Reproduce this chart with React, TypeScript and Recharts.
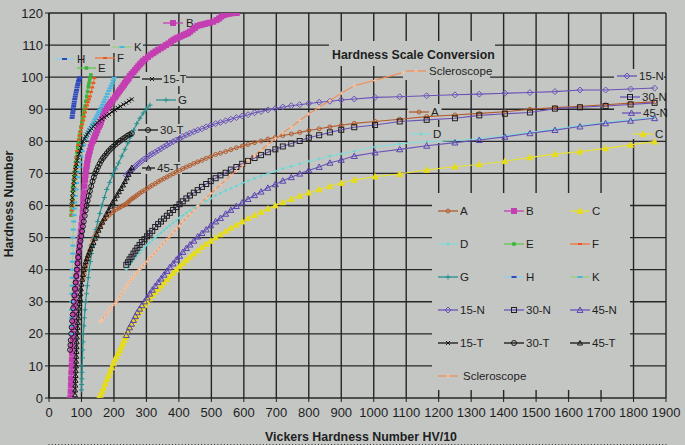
import React from 'react'
import { LineChart, Line, XAxis, YAxis, CartesianGrid, Legend, Customized } from 'recharts'

const BG = '#c4c6c4'
const INK = '#1e1e1e'
const FONT = '"Liberation Sans", Arial, Helvetica, sans-serif'

// axis ticks
const xTicks = [0, 100, 200, 300, 400, 500, 600, 700, 800, 900, 1000, 1100, 1200, 1300, 1400, 1500, 1600, 1700, 1800, 1900]
const yTicks = [0, 10, 20, 30, 40, 50, 60, 70, 80, 90, 100, 110, 120]
const minorTicks = Array.from({ length: 191 }, (_, i) => i * 10)

// Rockwell C range rows (HRC 20 -> 68)
const hrcHV = [238, 243, 248, 254, 260, 266, 272, 279, 286, 294, 302, 310, 318, 327, 336, 345, 354, 363, 372, 382, 392, 402, 412, 423, 434, 446, 458, 471, 484, 498, 513, 528, 544, 560, 577, 595, 613, 633, 653, 674, 697, 720, 746, 772, 800, 832, 865, 900, 940]
const hrcC = [20, 21, 22, 23, 24, 25, 26, 27, 28, 29, 30, 31, 32, 33, 34, 35, 36, 37, 38, 39, 40, 41, 42, 43, 44, 45, 46, 47, 48, 49, 50, 51, 52, 53, 54, 55, 56, 57, 58, 59, 60, 61, 62, 63, 64, 65, 66, 67, 68]
const hrcA = [60.5, 61.0, 61.5, 62.0, 62.4, 62.8, 63.3, 63.8, 64.3, 64.7, 65.3, 65.8, 66.3, 66.8, 67.4, 67.9, 68.4, 68.9, 69.4, 69.9, 70.4, 70.9, 71.5, 72.0, 72.5, 73.1, 73.6, 74.1, 74.7, 75.2, 75.9, 76.3, 76.8, 77.4, 78.0, 78.5, 79.0, 79.6, 80.1, 80.7, 81.2, 81.8, 82.3, 82.8, 83.4, 83.9, 84.5, 85.0, 85.6]
const hrcD = [40.1, 40.9, 41.6, 42.1, 43.1, 43.8, 44.6, 45.2, 46.1, 47.0, 47.7, 48.4, 49.2, 50.0, 50.8, 51.5, 52.3, 53.1, 53.8, 54.6, 55.4, 56.2, 56.9, 57.7, 58.5, 59.2, 60.0, 60.8, 61.4, 62.1, 63.1, 63.8, 64.6, 65.4, 66.1, 66.9, 67.7, 68.5, 69.2, 69.9, 70.7, 71.5, 72.2, 73.0, 73.8, 74.5, 75.4, 76.1, 76.9]
const hrc15N = [69.4, 69.9, 70.5, 71.0, 71.6, 72.2, 72.8, 73.3, 73.9, 74.5, 75.0, 75.6, 76.1, 76.6, 77.2, 77.7, 78.3, 78.8, 79.4, 79.9, 80.4, 80.9, 81.5, 82.0, 82.5, 83.0, 83.5, 83.9, 84.5, 85.0, 85.5, 85.9, 86.4, 86.9, 87.4, 87.9, 88.3, 88.9, 89.3, 89.8, 90.2, 90.7, 91.1, 91.4, 91.8, 92.2, 92.5, 92.9, 93.2]
const hrc30N = [41.5, 42.3, 43.2, 44.0, 45.0, 45.9, 46.8, 47.7, 48.6, 49.5, 50.4, 51.3, 52.1, 53.3, 54.2, 55.0, 55.9, 56.8, 57.7, 58.6, 59.5, 60.4, 61.3, 62.2, 63.1, 64.0, 64.8, 65.8, 66.7, 67.6, 68.5, 69.4, 70.2, 71.2, 72.0, 73.0, 73.9, 74.8, 75.7, 76.6, 77.5, 78.4, 79.3, 80.1, 81.1, 81.9, 82.8, 83.6, 84.4]
const hrc45N = [19.6, 20.7, 22.0, 23.1, 24.3, 25.5, 26.7, 27.8, 28.9, 30.1, 31.3, 32.5, 33.7, 34.9, 36.1, 37.2, 38.4, 39.6, 40.8, 41.9, 43.1, 44.3, 45.5, 46.7, 47.8, 49.0, 50.3, 51.4, 52.5, 53.8, 55.0, 56.1, 57.4, 58.6, 59.8, 60.9, 62.0, 63.2, 64.3, 65.5, 66.6, 67.7, 68.8, 69.9, 71.0, 72.0, 73.3, 74.2, 75.4]
const hrcSclero = [34.8, 35.5, 36.3, 37.0, 37.7, 38.5, 39.3, 40.1, 40.9, 41.7, 42.6, 43.5, 44.4, 45.4, 46.4, 47.4, 48.4, 49.4, 50.4, 51.5, 52.6, 53.7, 54.9, 56.1, 57.3, 58.5, 59.8, 61.1, 62.4, 63.7, 65.1, 66.5, 67.9, 69.4, 70.9, 72.4, 74.0, 75.6, 77.3, 79.0, 80.8, 82.6, 84.5, 86.5, 88.5, 90.6, 92.7, 95.0, 97.3]

// very hard range (above HRC 68)
const hardHV = [1004, 1080, 1163, 1250, 1325, 1404, 1481, 1558, 1635, 1714, 1791, 1865]
const hardA = [86.2, 86.9, 87.7, 88.2, 88.7, 89.2, 90.0, 90.5, 90.9, 91.4, 91.9, 92.3]
const hardC = [69.0, 69.8, 71.1, 72.1, 72.8, 73.8, 75.0, 76.0, 76.8, 77.8, 78.9, 79.9]
const hardD = [78.3, 79.2, 79.9, 80.2, 80.9, 81.8, 82.8, 83.8, 84.9, 85.9, 86.7, 87.5]
const hard15N = [93.7, 93.9, 94.2, 94.5, 94.7, 95.0, 95.2, 95.5, 96.0, 96.0, 96.3, 96.6]
const hard30N = [85.1, 86.2, 86.7, 87.2, 88.1, 88.6, 89.0, 90.2, 90.6, 91.0, 91.5, 92.0]
const hard45N = [76.5, 77.5, 78.6, 79.6, 80.4, 81.4, 82.5, 83.5, 84.6, 85.6, 86.4, 87.2]
const hardScleroHV = [1004, 1090]
const hardSclero = [99.0, 101.5]

// soft range pieces
const aSoftHV = [105, 108, 111, 114, 118, 122, 126, 130, 135, 140, 145, 151, 157, 163, 170, 177, 185, 192, 200, 207, 215, 221, 228, 233]
const aSoftHN = [37, 38.5, 40, 41.5, 43, 44.5, 46, 47.5, 49, 50.3, 51.5, 52.5, 53.5, 54.5, 55.5, 56.3, 57, 57.7, 58.3, 58.8, 59.2, 59.6, 60, 60.2]
const cSoftHV = [153, 158, 163, 168, 173, 178, 183, 188, 193, 198, 203, 208, 213, 218, 223, 227, 231, 235]
const cSoftHN = [0, 1, 2, 3.2, 4.5, 5.8, 7, 8.2, 9.5, 10.8, 12, 13, 14, 15, 16, 17, 18, 19]
const scleroSoftHV = [157, 161, 165, 171, 178, 184, 190, 196, 203, 209, 215, 221, 228, 233]
const scleroSoftHN = [23.8, 24.1, 24.5, 25.5, 26.5, 27.2, 28, 28.8, 29.5, 30.2, 31, 32, 33, 34]

const bHV = [66, 66.8, 67.5, 68.2, 69, 69.8, 70.5, 71.2, 72, 73, 74, 75, 76, 77, 78, 79.3, 80.7, 82, 83.3, 84.7, 86.5, 88.2, 90, 92, 94, 96, 98, 100, 102, 104, 105.3, 106.3, 107.8, 109.3, 111, 112.6, 114.3, 116, 117.5, 119, 120.8, 123, 125.5, 128.5, 131.5, 136, 139, 142, 145.5, 149, 153, 157, 160, 163, 166.5, 170, 174, 178, 181.5, 185, 188.5, 192, 197.5, 203, 207, 211, 215, 219, 223, 227, 230.5, 234, 238, 242, 245.5, 249, 254.5, 260, 265, 270, 275, 280, 285, 290, 297, 305, 313, 321, 328, 336, 344, 352, 360, 368, 376, 383, 390, 396, 403, 409, 416, 422, 428, 434, 442, 450, 457, 465, 472, 480, 488, 496, 506, 516, 524, 531, 539, 547, 555, 562, 570, 578, 585, 592]
const bHN = [0, 2, 4, 6, 8, 10, 12, 14, 16, 18, 20, 22, 24, 26, 28, 30, 32, 34, 36, 38, 40, 42, 44, 46, 48, 50, 52, 54, 56, 58, 60, 62, 64, 66, 68, 69.5, 71, 72.2, 73.2, 74.2, 75.2, 76, 77, 78.2, 79.4, 80.2, 81, 81.7, 82.5, 83.5, 84.5, 85.2, 86, 87, 88, 88.9, 89.8, 90.3, 90.8, 91.2, 91.7, 92.3, 93, 93.7, 94.3, 94.9, 95.5, 96, 96.6, 97.1, 97.6, 98.2, 98.7, 99.2, 99.7, 100.4, 101, 101.6, 102.2, 102.8, 103.4, 104, 104.5, 105.1, 105.7, 106.3, 107, 107.5, 108, 108.5, 109, 109.5, 110, 110.5, 111.1, 111.6, 112, 112.3, 112.6, 112.9, 113.2, 113.5, 113.7, 114.2, 114.8, 115.4, 116, 116.2, 116.4, 116.6, 116.8, 117, 117.3, 117.8, 118.3, 118.9, 119.4, 119.6, 119.8, 119.9, 120, 120]
const eHV = [68, 69, 70, 71, 72, 73, 74, 75.5, 77, 78.5, 80, 82, 84, 86, 88, 90, 92, 94, 96, 98.5, 101, 103.5, 106, 108.5, 111, 113.5, 116, 118.5, 121, 123, 125, 127, 129]
const eHN = [57, 58.5, 60, 61.5, 63, 64.5, 66, 67.5, 69, 70.5, 72, 73.5, 75, 76.5, 78, 79.3, 80.5, 81.8, 83, 84.5, 86, 87.3, 88.5, 89.8, 91, 92.5, 94, 95.5, 97, 98, 99, 99.9, 100.7]
const fHV = [70, 71, 72, 73, 74, 75.5, 77, 78.5, 80, 81.5, 83, 85, 87, 89.5, 92, 94.5, 97, 99.5, 102, 105, 108, 111, 114, 117, 120, 123, 126, 129.5, 133, 136.5, 140]
const fHN = [57, 58.5, 60, 61.5, 63, 65, 67, 68.5, 70, 71.5, 73, 75, 77, 78.8, 80.5, 81.8, 83, 84.2, 85.3, 86.5, 87.7, 89, 90.2, 91.2, 92.2, 93.1, 94, 95.4, 96.8, 98.2, 99.7]
const gHV = [100, 100.5, 101, 101.5, 102, 103, 104, 105, 106, 107.5, 109, 111, 113, 115.5, 118, 121, 124, 127.5, 131, 135, 139, 144.5, 150, 156.5, 163, 170.5, 178, 187, 196, 205, 214, 224, 234, 243, 252, 261, 270, 280, 290, 300, 311]
const gHN = [2.5, 4.2, 6, 8, 10, 12.5, 15, 17.5, 20, 22.5, 25, 27.5, 30, 32.5, 35, 37.5, 40, 42.5, 45, 47.5, 50, 52.5, 55, 57.5, 60, 62.5, 65, 67.2, 69.5, 71.4, 73.2, 75.4, 77.5, 79.5, 81.5, 83.5, 85.5, 87.2, 88.8, 90.1, 91.3]
const hHV = [71, 72, 73, 74, 75, 76, 77, 78.2, 79.5, 80.7, 82, 83.5, 85, 86.5, 88, 89.5, 91, 93, 95]
const hHN = [87.3, 88, 88.8, 89.5, 90.3, 91, 91.7, 92.4, 93.2, 93.9, 94.6, 95.3, 96, 96.8, 97.5, 98.1, 98.8, 99.4, 100]
const kHV = [68, 68.5, 69, 69.5, 70, 70.5, 71, 71.5, 72, 72.5, 73, 73.5, 74, 75, 76, 77, 78, 79.5, 81, 83, 85, 87.5, 90, 92.5, 95, 98.5, 102, 106.5, 111, 115.5, 120, 123, 126, 130, 134, 138, 142, 146, 150, 153.5, 157, 161, 165, 168.5, 172, 176, 180, 184, 188, 191.5, 195, 198, 201]
const kHN = [20, 22.5, 25, 27.5, 30, 32.5, 35, 37.5, 40, 42.5, 45, 47.5, 50, 52.5, 55, 57, 59, 61, 63, 65, 67, 68.8, 70.5, 72, 73.5, 75.3, 77, 78.8, 80.5, 81.5, 82.5, 83.1, 83.7, 84.5, 85.3, 86.1, 86.9, 87.7, 88.4, 89.1, 89.8, 90.6, 91.4, 92.2, 93, 93.9, 94.8, 95.7, 96.5, 97.3, 98.1, 99, 99.8]
const t15HV = [70, 71, 72, 73, 74, 75.5, 77, 78.5, 80, 81.5, 83, 85, 87, 89.5, 92, 95, 98, 101.5, 105, 109, 113, 117, 121, 126, 131, 136.5, 142, 148.5, 155, 162.5, 170, 177.5, 185, 194, 203, 211.5, 220, 229, 238, 246.5, 255]
const t15HN = [60, 61.3, 62.5, 63.8, 65, 66.3, 67.5, 68.8, 70, 71, 72, 73, 74, 75, 76, 77, 78, 79, 80, 80.8, 81.5, 82.1, 82.7, 83.4, 84, 84.6, 85.2, 85.8, 86.4, 87, 87.5, 88, 88.5, 89.2, 89.8, 90.4, 90.9, 91.5, 92, 92.6, 93.1]
const t30HV = [65, 66, 67, 68.5, 70, 71.5, 73, 74.5, 76, 78, 80, 82, 84, 86, 88, 90, 92, 94.5, 97, 99.5, 102, 104.5, 107, 110, 113, 116, 119, 122.5, 126, 130, 134, 138, 142, 146.5, 151, 156, 161, 166.5, 172, 178, 184, 190.5, 197, 204.5, 212, 219.5, 227, 234, 241, 248, 255]
const t30HN = [15, 16.5, 18, 20, 22, 24, 26, 28, 30, 32, 34, 36, 38, 40, 42, 43.8, 45.5, 47.3, 49, 50.5, 52, 53.5, 55, 56.8, 58.5, 60, 61.5, 63, 64.5, 66, 67.5, 68.8, 70, 71, 72, 73, 74, 74.8, 75.5, 76.3, 77, 77.7, 78.3, 79, 79.6, 80.2, 80.7, 81.2, 81.7, 82.1, 82.5]
const t45HV = [80, 80.5, 81, 81.5, 82, 82.5, 83, 83.5, 84, 84.5, 85, 85.5, 86, 87, 88, 89, 90, 91, 92, 93.5, 95, 96.5, 98, 100, 102, 104.5, 107, 110, 113, 116.5, 120, 124, 128, 132.5, 137, 142, 147, 152.5, 158, 164, 170, 176.5, 183, 189.5, 196, 202.5, 209, 215.5, 222, 228, 234, 239.5, 245, 250, 255]
const t45HN = [1, 2.5, 4, 5.5, 7, 8.5, 10, 11.5, 13, 14.5, 16, 17.5, 19, 20.5, 22, 23.5, 25, 26.5, 28, 29.5, 31, 32.5, 34, 35.5, 37, 38.5, 40, 41.3, 42.5, 43.5, 44.5, 45.5, 46.5, 47.5, 48.5, 49.8, 51, 52.3, 53.5, 54.8, 56, 57.3, 58.5, 59.8, 61, 62.1, 63.2, 64.3, 65.3, 66.4, 67.5, 68.6, 69.7, 70.8, 71.8]

const pts = (hv: number[], hn: number[]) => hv.map((v, i) => ({ hv: v, hn: hn[i] }))

type Shape = 'circle' | 'square' | 'triangle' | 'diamond' | 'x' | 'plus' | 'dash'

interface Series {
  name: string
  data: { hv: number; hn: number }[]
  line: string
  marker: string
  shape: Shape
  size: number
  fill?: boolean
}

const series: Series[] = [
  { name: 'A', data: pts([...aSoftHV, ...hrcHV, ...hardHV], [...aSoftHN, ...hrcA, ...hardA]), line: '#b35c2e', marker: '#b35c2e', shape: 'circle', size: 4 },
  { name: 'B', data: pts(bHV, bHN), line: '#c43fb2', marker: '#c43fb2', shape: 'square', size: 5, fill: true },
  { name: 'C', data: pts([...cSoftHV, ...hrcHV, ...hardHV], [...cSoftHN, ...hrcC, ...hardC]), line: '#e8e030', marker: '#e6dc1e', shape: 'triangle', size: 6, fill: true },
  { name: 'D', data: pts([...hrcHV, ...hardHV], [...hrcD, ...hardD]), line: '#86dcd8', marker: '#6fd0cc', shape: 'plus', size: 3 },
  { name: 'E', data: pts(eHV, eHN), line: '#5cc84c', marker: '#3cb43c', shape: 'square', size: 2.5, fill: true },
  { name: 'F', data: pts(fHV, fHN), line: '#f07438', marker: '#e8581c', shape: 'dash', size: 4 },
  { name: 'G', data: pts(gHV, gHN), line: '#24908e', marker: '#24908e', shape: 'plus', size: 5 },
  { name: 'H', data: pts(hHV, hHN), line: '#8cd2e0', marker: '#3048bc', shape: 'dash', size: 5 },
  { name: 'K', data: pts(kHV, kHN), line: '#9ad07c', marker: '#48b4e6', shape: 'dash', size: 5 },
  { name: '15-N', data: pts([...hrcHV, ...hardHV], [...hrc15N, ...hard15N]), line: '#6a52b8', marker: '#6a52b8', shape: 'diamond', size: 6 },
  { name: '30-N', data: pts([...hrcHV, ...hardHV], [...hrc30N, ...hard30N]), line: '#6a52b8', marker: '#202020', shape: 'square', size: 5 },
  { name: '45-N', data: pts([...hrcHV, ...hardHV], [...hrc45N, ...hard45N]), line: '#6a52b8', marker: '#5a44b0', shape: 'triangle', size: 6 },
  { name: '15-T', data: pts(t15HV, t15HN), line: '#151515', marker: '#151515', shape: 'x', size: 4 },
  { name: '30-T', data: pts(t30HV, t30HN), line: '#151515', marker: '#151515', shape: 'circle', size: 5 },
  { name: '45-T', data: pts(t45HV, t45HN), line: '#151515', marker: '#151515', shape: 'triangle', size: 5 },
  { name: 'Scleroscope', data: pts([...scleroSoftHV, ...hrcHV, ...hardScleroHV], [...scleroSoftHN, ...hrcSclero, ...hardSclero]), line: '#f0905a', marker: '#f8c4a4', shape: 'plus', size: 4 },
]

const byName = (n: string) => series.find((s) => s.name === n) as Series

function Marker({ x, y, s }: { x: number; y: number; s: Series }) {
  const h = s.size / 2
  const fill = s.fill ? s.marker : 'none'
  const c = s.marker
  switch (s.shape) {
    case 'circle':
      return <circle cx={x} cy={y} r={h} fill={fill} stroke={c} strokeWidth={1} />
    case 'square':
      return <rect x={x - h} y={y - h} width={s.size} height={s.size} fill={fill} stroke={c} strokeWidth={1} />
    case 'triangle':
      return <polygon points={`${x},${y - h} ${x + h},${y + h * 0.8} ${x - h},${y + h * 0.8}`} fill={fill} stroke={c} strokeWidth={1} />
    case 'diamond':
      return <polygon points={`${x},${y - h} ${x + h},${y} ${x},${y + h} ${x - h},${y}`} fill={fill} stroke={c} strokeWidth={1} />
    case 'x':
      return <path d={`M${x - h},${y - h}L${x + h},${y + h}M${x - h},${y + h}L${x + h},${y - h}`} stroke={c} strokeWidth={1} />
    case 'plus':
      return <path d={`M${x - h},${y}L${x + h},${y}M${x},${y - h}L${x},${y + h}`} stroke={c} strokeWidth={1} />
    default:
      return <path d={`M${x - h},${y}L${x + h},${y}`} stroke={c} strokeWidth={2} />
  }
}

function Key({ name, x1, x2, y, tx }: { name: string; x1: number; x2: number; y: number; tx: number }) {
  const s = byName(name)
  return (
    <g>
      <line x1={x1} x2={x2} y1={y} y2={y} stroke={s.line} strokeWidth={1.3} />
      <Marker x={(x1 + x2) / 2} y={y} s={s} />
      <text x={tx} y={y} dominantBaseline="central" fontSize={11.5} fill={INK} fontFamily={FONT}>{name}</text>
    </g>
  )
}

// in-plot labels near curve ends
const curveLabels = [
  { name: 'B', x1: 163, x2: 183, y: 23, tx: 186 },
  { name: 'K', x1: 112, x2: 132, y: 47, tx: 134 },
  { name: 'H', x1: 54, x2: 75, y: 59, tx: 77 },
  { name: 'F', x1: 95, x2: 115, y: 58, tx: 117 },
  { name: 'E', x1: 77, x2: 96, y: 68, tx: 98 },
  { name: '15-T', x1: 142, x2: 162, y: 79, tx: 163 },
  { name: 'G', x1: 156, x2: 176, y: 100, tx: 178 },
  { name: '30-T', x1: 138, x2: 158, y: 130, tx: 160 },
  { name: '45-T', x1: 142, x2: 155, y: 168, tx: 157 },
  { name: 'Scleroscope', x1: 406, x2: 426, y: 71, tx: 429 },
  { name: 'A', x1: 409, x2: 429, y: 112, tx: 431 },
  { name: 'D', x1: 411, x2: 431, y: 134, tx: 433 },
  { name: '15-N', x1: 617, x2: 637, y: 76, tx: 639 },
  { name: '30-N', x1: 620, x2: 640, y: 97, tx: 642 },
  { name: '45-N', x1: 622, x2: 641, y: 113, tx: 643 },
  { name: 'C', x1: 633, x2: 653, y: 134, tx: 655 },
]

// patches of background behind the labels (they hide the grid)
const labelPatches = [
  [329, 41, 166, 25],
  [403, 63, 87, 17],
  [407.5, 104, 34, 16],
  [407.5, 127, 35, 16],
  [614, 69, 50, 70],
  [110, 40, 33, 13],
  [140, 72, 46, 14],
  [155, 94, 31, 12],
  [137, 124, 52, 12],
  [141, 162, 41, 12],
]

function Annotations() {
  return (
    <g>
      {labelPatches.map(([x, y, w, h], i) => (
        <rect key={i} x={x} y={y} width={w} height={h} fill={BG} />
      ))}
      <text x={332} y={59} fontSize={12.3} fontWeight="bold" fill={INK} fontFamily={FONT}>Hardness Scale Conversion</text>
      {curveLabels.map((l) => (
        <Key key={l.name} {...l} />
      ))}
      <text x={361} y={437} textAnchor="middle" dominantBaseline="central" fontSize={12.4} fontWeight="bold" fill={INK} fontFamily={FONT}>
        Vickers Hardness Number HV/10
      </text>
      <text transform="translate(9,204) rotate(-90)" textAnchor="middle" dominantBaseline="central" fontSize={12.4} fontWeight="bold" fill={INK} fontFamily={FONT}>
        Hardness Number
      </text>
    </g>
  )
}

const legendRows = [
  ['A', 'B', 'C'],
  ['D', 'E', 'F'],
  ['G', 'H', 'K'],
  ['15-N', '30-N', '45-N'],
  ['15-T', '30-T', '45-T'],
  ['Scleroscope'],
]
const legendCols = [6, 72, 138]

function LegendBox() {
  return (
    <svg width={198} height={197} style={{ display: 'block' }}>
      <rect width={198} height={197} fill={BG} />
      {legendRows.map((row, r) =>
        row.map((name, c) => {
          const x1 = legendCols[c]
          const y = 18 + r * 33
          return <Key key={name} name={name} x1={x1} x2={x1 + 20} y={y} tx={name === 'Scleroscope' ? x1 + 25 : x1 + 22} />
        })
      )}
    </svg>
  )
}

const NoLabel = () => <g />

export default function App() {
  return (
    <div style={{ position: 'absolute', left: 0, top: 0, width: 685, height: 445, background: BG, fontFamily: FONT }}>
      <LineChart width={685} height={445} margin={{ top: 13, right: 19, bottom: 0, left: 0 }}>
        {/* thin first axis just for the minor ticks; the labelled axis stacks right under it */}
        <XAxis
          xAxisId="minor"
          type="number"
          dataKey="hv"
          domain={[0, 1900]}
          ticks={minorTicks}
          interval={0}
          tick={<NoLabel />}
          tickSize={3.5}
          axisLine={false}
          tickLine={{ stroke: '#333' }}
          height={1}
          allowDataOverflow
        />
        <XAxis
          type="number"
          dataKey="hv"
          domain={[0, 1900]}
          ticks={xTicks}
          interval={0}
          tickSize={4}
          tickMargin={6}
          height={46}
          allowDataOverflow
          axisLine={false}
          tickLine={{ stroke: INK }}
          tick={{ fontSize: 13, fill: INK, fontFamily: FONT }}
        />
        <YAxis
          type="number"
          domain={[0, 120]}
          ticks={yTicks}
          interval={0}
          width={49}
          tickSize={4}
          tickMargin={2}
          allowDataOverflow
          axisLine={{ stroke: INK, strokeWidth: 1.3 }}
          tickLine={{ stroke: INK }}
          tick={{ fontSize: 13, fill: INK, fontFamily: FONT }}
        />
        <CartesianGrid stroke="#262626" strokeWidth={1.4} fill="none" />
        <Customized component={<Annotations />} />
        {series.map((s) => (
          <Line
            key={s.name}
            name={s.name}
            data={s.data}
            dataKey="hn"
            type="linear"
            stroke={s.line}
            strokeWidth={1.1}
            isAnimationActive={false}
            activeDot={false}
            dot={(p: any) => <Marker key={`${s.name}-${p.index}`} x={p.cx} y={p.cy} s={s} />}
          />
        ))}
        <Legend
          content={<LegendBox />}
          layout="vertical"
          align="center"
          verticalAlign="middle"
          wrapperStyle={{ left: 432, top: 193, width: 198, height: 197 }}
        />
      </LineChart>
    </div>
  )
}
